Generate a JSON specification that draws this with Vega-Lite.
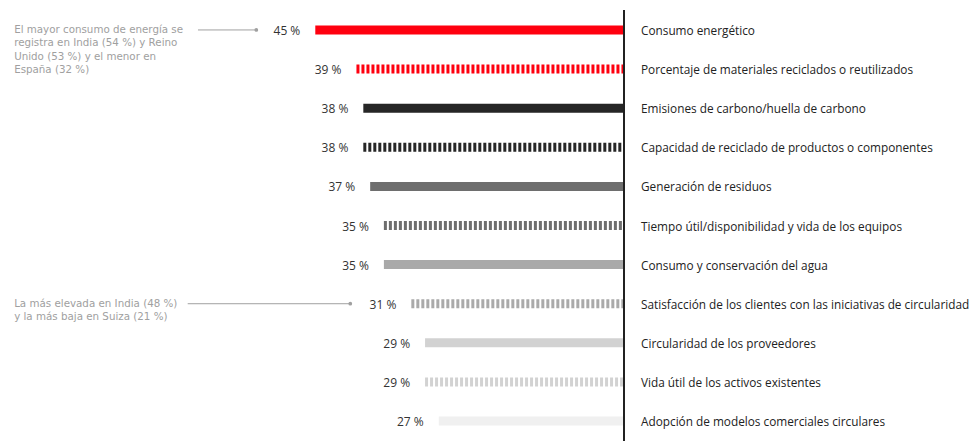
{
  "$schema": "https://vega.github.io/schema/vega-lite/v6.json",
  "width": 624,
  "height": 431,
  "autosize": {"type": "none"},
  "padding": {"left": 0, "right": 348, "top": 10, "bottom": 0},
  "background": "white",
  "config": {"view": {"stroke": null}, "font": "Open Sans"},
  "data": {
    "values": [
      {"categoria": "Consumo energético", "valor": 45, "tipo": "sólido"},
      {"categoria": "Porcentaje de materiales reciclados o reutilizados", "valor": 39, "tipo": "rayado"},
      {"categoria": "Emisiones de carbono/huella de carbono", "valor": 38, "tipo": "sólido"},
      {"categoria": "Capacidad de reciclado de productos o componentes", "valor": 38, "tipo": "rayado"},
      {"categoria": "Generación de residuos", "valor": 37, "tipo": "sólido"},
      {"categoria": "Tiempo útil/disponibilidad y vida de los equipos", "valor": 35, "tipo": "rayado"},
      {"categoria": "Consumo y conservación del agua", "valor": 35, "tipo": "sólido"},
      {"categoria": "Satisfacción de los clientes con las iniciativas de circularidad", "valor": 31, "tipo": "rayado"},
      {"categoria": "Circularidad de los proveedores", "valor": 29, "tipo": "sólido"},
      {"categoria": "Vida útil de los activos existentes", "valor": 29, "tipo": "rayado"},
      {"categoria": "Adopción de modelos comerciales circulares", "valor": 27, "tipo": "sólido"}
    ]
  },
  "encoding": {
    "y": {
      "field": "categoria",
      "type": "nominal",
      "sort": null,
      "axis": null,
      "scale": {"paddingInner": 0, "paddingOuter": 0.01}
    }
  },
  "layer": [
    {
      "mark": {"type": "rule", "strokeWidth": 9, "strokeCap": "butt"},
      "encoding": {
        "x": {"field": "valor", "type": "quantitative", "axis": null,
              "scale": {"domain": [0, 90.96], "reverse": true, "nice": false, "zero": true}},
        "x2": {"datum": 0},
        "color": {
          "field": "categoria", "type": "nominal", "legend": null,
          "scale": {
            "domain": [
              "Consumo energético",
              "Porcentaje de materiales reciclados o reutilizados",
              "Emisiones de carbono/huella de carbono",
              "Capacidad de reciclado de productos o componentes",
              "Generación de residuos",
              "Tiempo útil/disponibilidad y vida de los equipos",
              "Consumo y conservación del agua",
              "Satisfacción de los clientes con las iniciativas de circularidad",
              "Circularidad de los proveedores",
              "Vida útil de los activos existentes",
              "Adopción de modelos comerciales circulares"
            ],
            "range": ["#FF000F", "#FF000F", "#262626", "#262626", "#6E6E6E", "#6E6E6E", "#A9A9A9", "#A9A9A9", "#D2D2D2", "#D2D2D2", "#F0F0F0"]
          }
        },
        "strokeDash": {
          "field": "tipo", "type": "nominal", "legend": null,
          "scale": {"domain": ["sólido", "rayado"], "range": [[1, 0], [3, 2]]}
        }
      }
    },
    {
      "transform": [{"calculate": "datum.valor + ' %'", "as": "etiqueta"}],
      "mark": {"type": "text", "align": "right", "baseline": "middle", "dx": -15, "dy": 1, "fontSize": 12, "color": "#333333"},
      "encoding": {
        "x": {"field": "valor", "type": "quantitative"},
        "text": {"field": "etiqueta"}
      }
    },
    {
      "mark": {"type": "text", "align": "left", "baseline": "middle", "dx": 17, "dy": 1, "fontSize": 11.8, "color": "#222222"},
      "encoding": {
        "x": {"datum": 0, "type": "quantitative"},
        "text": {"field": "categoria"}
      }
    },
    {
      "mark": {"type": "rule", "color": "#222222", "strokeWidth": 1.2},
      "encoding": {"x": {"datum": 0, "type": "quantitative"}, "y": null}
    },
    {
      "transform": [{"filter": "datum.categoria == 'Consumo energético'"}],
      "layer": [
        {
          "mark": {"type": "text", "align": "left", "baseline": "top", "dy": -5, "font": "DejaVu Sans", "fontSize": 10.3, "color": "#A0A0A0", "lineHeight": 13.4},
          "encoding": {
            "x": {"datum": 88.9, "type": "quantitative"},
            "text": {"value": ["El mayor consumo de energía se", "registra en India (54 %) y Reino", "Unido (53 %) y el menor en", "España (32 %)"]}
          }
        },
        {
          "mark": {"type": "rule", "color": "#A0A0A0", "strokeWidth": 1},
          "encoding": {"x": {"datum": 62.1, "type": "quantitative"}, "x2": {"datum": 53.6}}
        },
        {
          "mark": {"type": "point", "filled": true, "size": 14, "color": "#A0A0A0", "opacity": 1},
          "encoding": {"x": {"datum": 53.6, "type": "quantitative"}}
        }
      ]
    },
    {
      "transform": [{"filter": "datum.categoria == 'Satisfacción de los clientes con las iniciativas de circularidad'"}],
      "layer": [
        {
          "mark": {"type": "text", "align": "left", "baseline": "top", "dy": -5, "font": "DejaVu Sans", "fontSize": 10.3, "color": "#A0A0A0", "lineHeight": 13.4},
          "encoding": {
            "x": {"datum": 88.9, "type": "quantitative"},
            "text": {"value": ["La más elevada en India (48 %)", "y la más baja en Suiza (21 %)"]}
          }
        },
        {
          "mark": {"type": "rule", "color": "#A0A0A0", "strokeWidth": 1},
          "encoding": {"x": {"datum": 63.6, "type": "quantitative"}, "x2": {"datum": 39.9}}
        },
        {
          "mark": {"type": "point", "filled": true, "size": 14, "color": "#A0A0A0", "opacity": 1},
          "encoding": {"x": {"datum": 39.9, "type": "quantitative"}}
        }
      ]
    }
  ]
}
